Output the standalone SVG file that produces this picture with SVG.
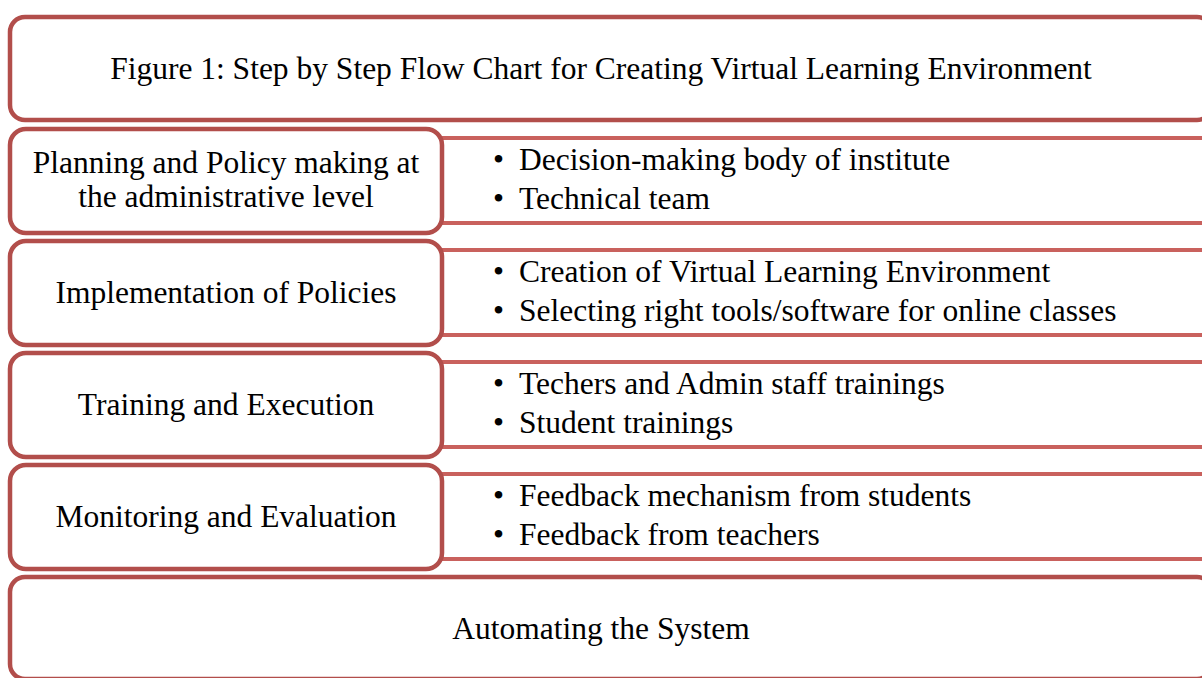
<svg xmlns="http://www.w3.org/2000/svg" width="1202" height="678" viewBox="0 0 1202 678">
<style>
.box{fill:#ffffff;stroke:#b24e4b;stroke-width:4.5}
.panel{fill:#ffffff;stroke:#c9615d;stroke-width:4}
.t{font-family:"Liberation Serif","Times New Roman",serif;font-size:31.5px;fill:#000000}
.c{text-anchor:middle}
.wm{fill:none;stroke:#e6e6e6;stroke-width:22}
</style>
<rect x="0" y="0" width="1202" height="678" fill="#ffffff"/>
<g id="title">
<rect class="box" x="10" y="17" width="1202" height="103" rx="15"/>
<text class="t c" x="601" y="79">Figure 1: Step by Step Flow Chart for Creating Virtual Learning Environment</text>
</g>
<g id="panels">
<g id="panel1">
<rect class="panel" x="430" y="138" width="800" height="85"/>
<text class="t" x="493" y="170">•</text><text class="t" x="519" y="170">Decision-making body of institute</text>
<text class="t" x="493" y="209">•</text><text class="t" x="519" y="209">Technical team</text>
</g>
<g id="panel2">
<rect class="panel" x="430" y="250" width="800" height="85"/>
<text class="t" x="493" y="282">•</text><text class="t" x="519" y="282">Creation of Virtual Learning Environment</text>
<text class="t" x="493" y="321">•</text><text class="t" x="519" y="321">Selecting right tools/software for online classes</text>
</g>
<g id="panel3">
<rect class="panel" x="430" y="362" width="800" height="85"/>
<text class="t" x="493" y="394">•</text><text class="t" x="519" y="394">Techers and Admin staff trainings</text>
<text class="t" x="493" y="433">•</text><text class="t" x="519" y="433">Student trainings</text>
</g>
<g id="panel4">
<rect class="panel" x="430" y="474" width="800" height="85"/>
<text class="t" x="493" y="506">•</text><text class="t" x="519" y="506">Feedback mechanism from students</text>
<text class="t" x="493" y="545">•</text><text class="t" x="519" y="545">Feedback from teachers</text>
</g>
</g>
<g id="connectors"></g>
<g id="step1">
<rect class="box" x="10" y="129" width="432" height="104" rx="16"/>
<text class="t c" x="226" y="173">Planning and Policy making at</text>
<text class="t c" x="226" y="207">the administrative level</text>
</g>
<g id="step2">
<rect class="box" x="10" y="241" width="432" height="104" rx="16"/>
<text class="t c" x="226" y="303">Implementation of Policies</text>
</g>
<g id="step3">
<rect class="box" x="10" y="353" width="432" height="104" rx="16"/>
<text class="t c" x="226" y="415">Training and Execution</text>
</g>
<g id="step4">
<rect class="box" x="10" y="465" width="432" height="104" rx="16"/>
<text class="t c" x="226" y="527">Monitoring and Evaluation</text>
</g>
<g id="step5">
<rect class="box" x="10" y="577" width="1202" height="102" rx="15"/>
<text class="t c" x="601" y="639">Automating the System</text>
</g>
</svg>
